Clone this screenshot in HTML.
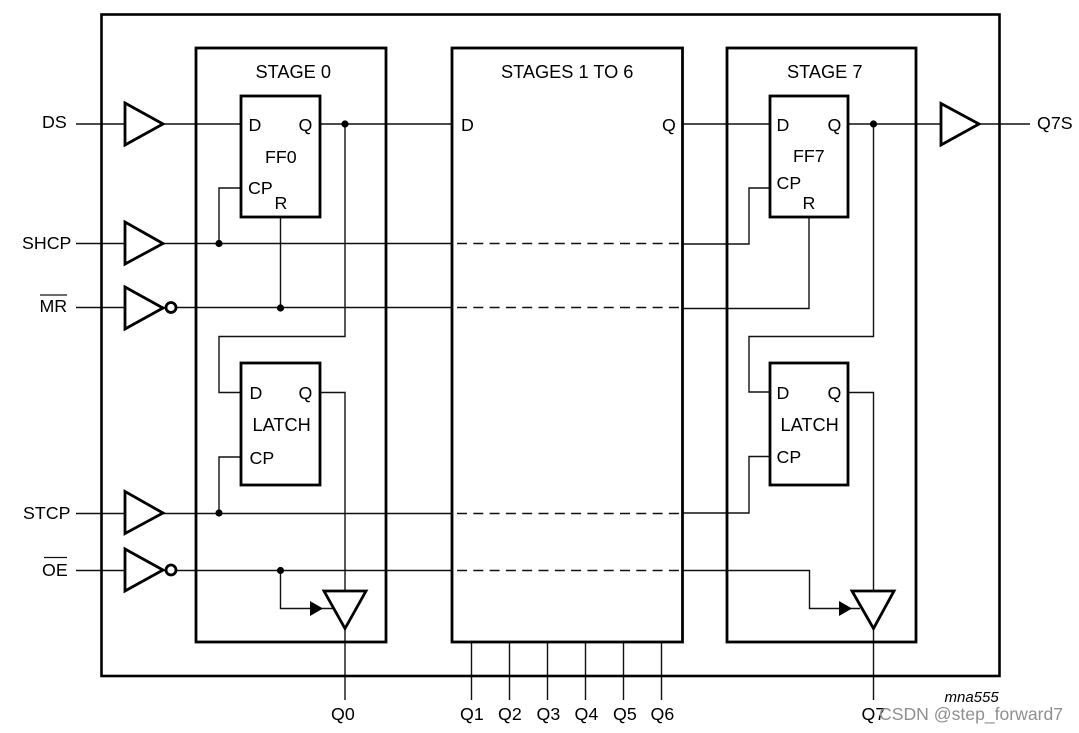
<!DOCTYPE html>
<html>
<head>
<meta charset="utf-8">
<style>
html,body{margin:0;padding:0;background:#fff;}
svg{display:block;}
text{font-family:"Liberation Sans",sans-serif;font-size:17.8px;fill:#000;}
.h{font-size:18.2px;}
.b{fill:none;stroke:#000;stroke-width:2.8;}
.o{fill:none;stroke:#000;stroke-width:2.6;}
.w{fill:none;stroke:#111;stroke-width:1.4;}
.t{fill:#fff;stroke:#000;stroke-width:2.8;stroke-linejoin:miter;}
.c{fill:#fff;stroke:#000;stroke-width:2.8;}
.d{fill:#000;}
.da{fill:none;stroke:#111;stroke-width:1.4;stroke-dasharray:10 6.3;}
</style>
</head>
<body>
<svg width="1079" height="733" viewBox="0 0 1079 733" xmlns="http://www.w3.org/2000/svg">
<rect width="1079" height="733" fill="#fff"/>

<!-- wires -->
<path class="w" d="M76 124H241M320 124H452M683 124H770M848 124H1030"/>
<path class="w" d="M76 243.500H452M683 244H749V188H770M241 188H219V243"/>
<path class="w" d="M76 307.500H452M683 308.500H809V217M280.500 217V308"/>
<path class="w" d="M76 513.500H452M683 513H749V456.500H770M241 457H219V513"/>
<path class="w" d="M76 570.500H452M683 570.500H809.500V608.500H860M280.500 570V608.500H333"/>
<path class="w" d="M345 124V336.500H219V392.500H241M320 392.500H345V700"/>
<path class="w" d="M873.500 124V336.500H749V392H770M848 392.500H873.500V700"/>
<path class="w" d="M471.500 642V700M509.500 642V700M547.500 642V700M585.500 642V700M623.500 642V700M661.500 642V700"/>
<path class="da" d="M457 243.500H680M457 307.500H680M457 513.500H680M457 570.500H680"/>

<!-- frames -->
<rect class="o" x="101.500" y="14.500" width="898" height="661.500"/>
<rect class="b" x="196" y="48" width="190" height="594"/>
<rect class="b" x="452" y="48" width="230.500" height="594"/>
<rect class="b" x="727" y="48" width="189" height="594"/>
<rect class="b" x="241" y="96" width="79" height="121"/>
<rect class="b" x="241" y="363" width="79" height="122"/>
<rect class="b" x="770" y="96" width="78" height="121"/>
<rect class="b" x="770" y="363" width="78" height="122"/>

<!-- buffers -->
<polygon class="t" points="125,103 125,145 163,124"/>
<polygon class="t" points="125,222 125,264 163,243.500"/>
<polygon class="t" points="125,287 125,329 163,308"/>
<polygon class="t" points="125,491.500 125,533.500 163,513"/>
<polygon class="t" points="125,549 125,591 163,570"/>
<polygon class="t" points="941,103.500 941,145 979,124"/>
<polygon class="t" points="324,591 366,591 345,628.500"/>
<polygon class="t" points="852,591 894,591 873.500,628.500"/>
<circle class="c" cx="171" cy="307.500" r="5"/>
<circle class="c" cx="171" cy="570" r="5"/>

<!-- arrows -->
<polygon class="d" points="310,601 310,616 323,608.500"/>
<polygon class="d" points="839,601 839,616 852,608.500"/>

<!-- dots -->
<circle class="d" cx="345" cy="124" r="3.600"/>
<circle class="d" cx="873.500" cy="124" r="3.600"/>
<circle class="d" cx="219" cy="243.500" r="3.600"/>
<circle class="d" cx="280.500" cy="308" r="3.600"/>
<circle class="d" cx="219" cy="513" r="3.600"/>
<circle class="d" cx="280.500" cy="570.500" r="3.600"/>

<!-- overlines -->
<path d="M40 295H67M44 557.500H67" stroke="#111" stroke-width="1.300" fill="none"/>

<!-- left labels -->
<text x="42" y="128">DS</text>
<text x="22" y="249">SHCP</text>
<text x="39.500" y="312">MR</text>
<text x="23" y="519">STCP</text>
<text x="42" y="576">OE</text>

<!-- stage titles -->
<text class="h" x="255.500" y="78">STAGE 0</text>
<text class="h" x="501" y="78">STAGES 1 TO 6</text>
<text class="h" x="787" y="78">STAGE 7</text>

<!-- FF0 -->
<text x="248.500" y="131">D</text>
<text x="298.500" y="131">Q</text>
<text x="265" y="163">FF0</text>
<text x="248" y="194">CP</text>
<text x="274.500" y="209">R</text>

<!-- Latch 0 -->
<text x="249.500" y="399">D</text>
<text x="298.500" y="399">Q</text>
<text class="h" x="252.500" y="431">LATCH</text>
<text x="249.500" y="464">CP</text>

<!-- middle -->
<text x="461" y="131">D</text>
<text x="662" y="131">Q</text>

<!-- FF7 -->
<text x="776.500" y="131">D</text>
<text x="827.500" y="131">Q</text>
<text x="793" y="162">FF7</text>
<text x="776.500" y="189">CP</text>
<text x="802.500" y="209">R</text>

<!-- Latch 7 -->
<text x="776.500" y="399">D</text>
<text x="827.500" y="399">Q</text>
<text class="h" x="780.500" y="431">LATCH</text>
<text x="776.500" y="463">CP</text>

<!-- outputs -->
<text x="1037" y="129">Q7S</text>
<text x="331" y="720">Q0</text>
<text x="460" y="720">Q1</text>
<text x="498" y="720">Q2</text>
<text x="536.500" y="720">Q3</text>
<text x="574.500" y="720">Q4</text>
<text x="613" y="720">Q5</text>
<text x="650.500" y="720">Q6</text>
<text x="861.500" y="720">Q7</text>

<text x="944.500" y="702" style="font-style:italic;font-size:15px;">mna555</text>
<text x="879" y="720" style="fill:#8f8f8f;font-size:17.600px;">CSDN @step_forward7</text>
</svg>
</body>
</html>
